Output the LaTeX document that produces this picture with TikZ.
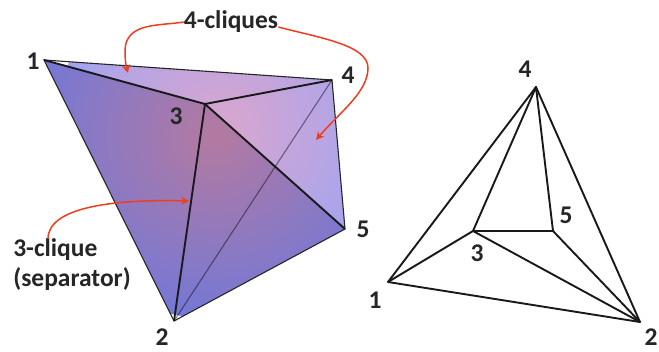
\documentclass[tikz,border=0pt]{standalone}
\usepackage{fontspec}
\setmainfont{Carlito}
\usetikzlibrary{arrows.meta,calc,positioning}
\definecolor{faceblue}{RGB}{116,120,214}
\definecolor{facered}{RGB}{180,122,160}
\definecolor{backblue}{RGB}{164,164,240}
\definecolor{backred}{RGB}{218,166,206}
\definecolor{callred}{RGB}{238,62,30}
\begin{document}
\begin{tikzpicture}[
  x=1pt, y=-1pt,
  lab/.style={font=\fontsize{25.5}{30}\selectfont\bfseries, text=black!85, inner sep=0pt, align=left},
  edge/.style={draw=black!90, line width=1.9pt, line join=round},
  thin edge/.style={draw=black!85, line width=1.1pt},
  hidden edge/.style={draw=black, draw opacity=0.45, line width=1.1pt},
  call/.style={-{Stealth[length=8pt,width=8pt]}, draw=callred, line width=1.5pt}
]
\useasboundingbox (0,0) rectangle (659,351);

\coordinate (a1) at (44,60);
\coordinate (a2) at (174,321);
\coordinate (a3) at (205,104);
\coordinate (a4) at (332,80);
\coordinate (a5) at (345,229);
\coordinate (b1) at (388,282);
\coordinate (b2) at (640,322);
\coordinate (b3) at (473,231);
\coordinate (b4) at (536,87);
\coordinate (b5) at (553,231);

\begin{scope}
  \clip (a1) -- (a4) -- (a5) -- (a3) -- cycle;
  \shade[inner color=backred, outer color=backblue] (a3) ++(15,25) circle (165);
\end{scope}
\begin{scope}
  \clip (a1) -- (a3) -- (a5) -- (a2) -- cycle;
  \shade[inner color=facered, outer color=faceblue] (a3) ++(10,30) circle (185);
\end{scope}

\draw[hidden edge] (a2) -- (a4);
\draw[thin edge] (a1) -- (a4) -- (a5) -- (a2) -- cycle;
\draw[edge] (a1) -- (a3) -- (a2);
\draw[edge] (a3) -- (a4);
\draw[edge] (a3) -- (a5);

\draw[edge] (b1) -- (b4) -- (b2) -- cycle;
\draw[edge] (b1) -- (b3) -- (b2);
\draw[edge] (b3) -- (b4) -- (b5) -- (b2);
\draw[edge] (b3) -- (b5);

\node[lab] (n1) at (33,61) {1};
\node[lab] (n2) at (162,337) {2};
\node[lab] (n3) at (176,116) {3};
\node[lab] (n4) at (348,75) {4};
\node[lab] (n5) at (363,229) {5};
\node[lab] (m1) at (375,300) {1};
\node[lab] (m2) at (651,337) {2};
\node[lab] (m3) at (477,253) {3};
\node[lab] (m4) at (525,69) {4};
\node[lab] (m5) at (566,215) {5};
\node[lab] (four) at (231,22) {4-cliques};
\node[lab] (three) at (72,265) {3-clique\\(separator)};

\coordinate (t1) at (128,73);
\coordinate (t2) at (316,140);
\coordinate (t3) at (189,201);
\draw[call] (four.west) .. controls (160,26) and (126,22) .. (125,50) .. controls (125,60) and (126,66) .. (t1);
\draw[call] ($(four.east)+(0,5)$) .. controls (320,38) and (368,45) .. (368,68) .. controls (368,92) and (340,112) .. (t2);
\draw[call] (three.north -| 48,0) .. controls (48,208) and (110,199) .. (t3);
\end{tikzpicture}
\end{document}
